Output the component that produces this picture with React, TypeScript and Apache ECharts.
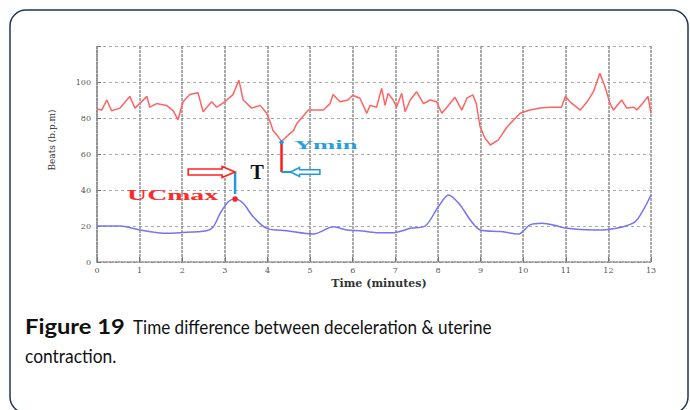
import React, { useEffect, useRef } from "react";
import * as echarts from "echarts";

// Heart rate (red) — time in minutes, beats per minute
const hrTime = [0, 0.11, 0.23, 0.34, 0.54, 0.77, 0.89, 1.0, 1.17, 1.24, 1.4, 1.63, 1.79, 1.9, 2.02, 2.18, 2.37, 2.49, 2.69, 2.81, 3.0, 3.19, 3.33, 3.43, 3.63, 3.83, 3.98, 4.06, 4.13, 4.22, 4.33, 4.49, 4.61, 4.69, 4.8, 4.96, 5.31, 5.47, 5.54, 5.7, 5.89, 6.0, 6.17, 6.33, 6.41, 6.56, 6.68, 6.76, 6.83, 6.95, 7.03, 7.15, 7.23, 7.35, 7.5, 7.66, 7.82, 7.97, 8.09, 8.21, 8.4, 8.56, 8.68, 8.82, 8.9, 8.99, 9.1, 9.23, 9.42, 9.62, 9.93, 10.16, 10.4, 10.63, 10.9, 10.99, 11.1, 11.34, 11.5, 11.65, 11.8, 11.92, 12.04, 12.12, 12.31, 12.43, 12.6, 12.67, 12.8, 12.93, 13.0];
const hrValues = [85, 84.4, 90, 84, 85.5, 92, 85.5, 88, 92, 86, 88, 87, 84, 79, 89, 93, 94, 83.5, 89, 86, 89, 93, 101, 90, 85.5, 87, 82.6, 78, 73, 70.6, 67, 70.6, 73, 77, 80, 84.4, 84.4, 88, 93, 89, 90, 92.6, 91, 82.6, 87, 86, 96.5, 87, 93.7, 90, 86, 93.7, 83.5, 90, 94.6, 88, 90, 89, 82.6, 86, 91.5, 84.4, 91, 92.8, 88, 75, 69, 65, 67.8, 75, 82.6, 84.4, 85.5, 86, 86, 92, 89, 84.4, 89, 94.6, 104.8, 97.4, 88, 84.4, 90, 85.5, 86, 84.4, 88, 92, 82.6];

// Uterine contraction (blue)
const ucTime = [0, 0.54, 1.0, 1.56, 1.95, 2.57, 2.73, 2.89, 3.08, 3.24, 3.43, 3.67, 3.98, 4.45, 5.08, 5.55, 5.86, 6.17, 6.56, 6.96, 7.35, 7.7, 8.01, 8.25, 8.52, 8.76, 8.99, 9.46, 9.89, 10.16, 10.44, 10.71, 11.03, 11.65, 12.0, 12.35, 12.63, 12.82, 13.0];
const ucValues = [20, 20, 17.8, 16, 16.3, 17.4, 19.6, 27, 33.5, 35, 32.6, 25, 18.7, 17.4, 15.6, 19.6, 17.8, 17.4, 16.3, 16.3, 18.7, 20, 30.7, 37.2, 31.7, 23.3, 17.8, 16.9, 15.6, 20.6, 21.5, 20.6, 18.7, 17.8, 18.1, 19.6, 22.4, 28.9, 37.2];

// Annotation anchors (time, value)
const ucMaxPoint = [3.24, 35];
const yMinPoint = [4.33, 66.5];
const markerLevel = 50;
const redArrowStart = 2.14;
const blueArrowEnd = 5.23;
const ucMaxLabelPos = [2.84, 37];
const tLabelPos = [3.76, 50];
const yMinLabelPos = [4.62, 65];

const xTicks = [0, 1, 2, 3, 4, 5, 6, 7, 8, 9, 10, 11, 12, 13];
const yTicks = [0, 20, 40, 60, 80, 100];

const captionBold = "Figure 19";
const captionLine1 = "Time difference between deceleration & uterine";
const captionLine2 = "contraction.";

function zip(a: number[], b: number[]) {
  return a.map((v, i) => [v, b[i]]);
}

function arrowPts(x0: number, x1: number, y: number, sh: number, hh: number, hl: number) {
  const dir = x1 > x0 ? 1 : -1;
  const xb = x1 - dir * hl;
  return [
    [x0, y - sh],
    [xb, y - sh],
    [xb, y - hh],
    [x1, y],
    [xb, y + hh],
    [xb, y + sh],
    [x0, y + sh],
  ];
}

export default function App() {
  const ref = useRef<HTMLDivElement>(null);
  useEffect(() => {
    if (!ref.current) return;
    const chart = echarts.init(ref.current, null, { renderer: "svg" });
    const serif = "'Liberation Serif', 'DejaVu Serif', serif";
    const wideSerif = "'DejaVu Serif', 'Liberation Serif', serif";
    const capFont = "Lato, 'Open Sans', sans-serif";
    chart.setOption({
      animation: false,
      backgroundColor: "#ffffff",
      grid: { left: 97, right: 39, top: 46, bottom: 148, containLabel: false },
      xAxis: {
        type: "value",
        min: 0,
        max: 13,
        interval: 1,
        axisLine: { show: true, lineStyle: { color: "#888", type: "dotted", width: 1.5 } },
        axisTick: { show: true, inside: true, length: 5, lineStyle: { color: "#777" } },
        axisLabel: {
          fontFamily: wideSerif,
          fontSize: 8,
          color: "#555",
          margin: 4,
          formatter: (v: number) => (xTicks.includes(v) ? String(v) : ""),
        },
        splitLine: { show: true, lineStyle: { color: "#8f8f8f", type: [3, 1], width: 1.5 } },
      },
      yAxis: {
        type: "value",
        min: 0,
        max: 120,
        interval: 20,
        axisLine: { show: true, lineStyle: { color: "#888", type: "dotted", width: 1.5 } },
        axisTick: { show: true, inside: true, length: 4, lineStyle: { color: "#777" } },
        axisLabel: {
          fontFamily: wideSerif,
          fontSize: 8,
          color: "#555",
          margin: 6,
          formatter: (v: number) => (yTicks.includes(v) ? String(v) : ""),
        },
        splitLine: { show: true, lineStyle: { color: "#aaa", type: [3, 3], width: 1.2 } },
      },
      series: [
        {
          type: "line",
          name: "FHR",
          data: zip(hrTime, hrValues),
          showSymbol: false,
          lineStyle: { color: "#ff6464", width: 1.5 },
          z: 3,
        },
        {
          type: "line",
          name: "UC",
          data: zip(ucTime, ucValues),
          showSymbol: false,
          smooth: 0.3,
          lineStyle: { color: "#7474f4", width: 1.5 },
          z: 3,
        },
        {
          type: "custom",
          coordinateSystem: "cartesian2d",
          clip: false,
          z: 5,
          data: [[ucMaxPoint[0], markerLevel]],
          renderItem: (_params: any, api: any) => {
            const pUc = api.coord(ucMaxPoint);
            const pMin = api.coord(yMinPoint);
            const pUcLvl = api.coord([ucMaxPoint[0], markerLevel]);
            const pMinLvl = api.coord([yMinPoint[0], markerLevel]);
            const pRedStart = api.coord([redArrowStart, markerLevel]);
            const pBlueEnd = api.coord([blueArrowEnd, markerLevel]);
            const pUcLab = api.coord(ucMaxLabelPos);
            const pT = api.coord(tLabelPos);
            const pYLab = api.coord(yMinLabelPos);
            return {
              type: "group",
              children: [
                {
                  type: "line",
                  shape: { x1: pUcLvl[0], y1: pUcLvl[1], x2: pUc[0], y2: pUc[1] - 5 },
                  style: { stroke: "#1e9be0", lineWidth: 2.5 },
                },
                {
                  type: "polygon",
                  shape: { points: arrowPts(pRedStart[0], pUcLvl[0], pUcLvl[1], 3, 5.5, 13) },
                  style: { fill: "#fff", stroke: "#ff2020", lineWidth: 1.6 },
                },
                {
                  type: "circle",
                  shape: { cx: pUc[0], cy: pUc[1], r: 2.8 },
                  style: { fill: "#ff2020" },
                },
                {
                  type: "line",
                  shape: { x1: pMin[0], y1: pMin[1], x2: pMinLvl[0], y2: pMinLvl[1] },
                  style: { stroke: "#ff1a1a", lineWidth: 2.5 },
                },
                {
                  type: "circle",
                  shape: { cx: pMin[0], cy: pMin[1], r: 2.2 },
                  style: { fill: "#1e9be0" },
                },
                {
                  type: "line",
                  shape: { x1: pMinLvl[0], y1: pMinLvl[1], x2: pMinLvl[0] + 10, y2: pMinLvl[1] },
                  style: { stroke: "#1e9be0", lineWidth: 2 },
                },
                {
                  type: "polygon",
                  shape: { points: arrowPts(pBlueEnd[0], pMinLvl[0] + 9, pMinLvl[1], 2.2, 4.5, 9) },
                  style: { fill: "#fff", stroke: "#1e9be0", lineWidth: 1.6 },
                },
                {
                  type: "text",
                  x: pUcLab[0],
                  y: pUcLab[1],
                  scaleX: 1.85,
                  style: {
                    text: "UCmax",
                    fill: "#ff2a2a",
                    font: "bold 15px " + serif,
                    align: "right",
                    verticalAlign: "middle",
                  },
                },
                {
                  type: "text",
                  x: pT[0],
                  y: pT[1],
                  style: {
                    text: "T",
                    fill: "#111",
                    font: "bold 20px " + serif,
                    align: "center",
                    verticalAlign: "middle",
                  },
                },
                {
                  type: "text",
                  x: pYLab[0],
                  y: pYLab[1],
                  scaleX: 2.05,
                  style: {
                    text: "Ymin",
                    fill: "#2a9fe0",
                    font: "bold 13px " + serif,
                    align: "left",
                    verticalAlign: "middle",
                  },
                },
              ],
            };
          },
        },
      ],
      graphic: [
        {
          type: "rect",
          shape: { x: 10, y: 10, width: 678, height: 403, r: 16 },
          style: { fill: "none", stroke: "#1f3556", lineWidth: 1.5 },
          z: 0,
        },
        {
          type: "text",
          x: 379,
          y: 283,
          style: {
            text: "Time (minutes)",
            font: "bold 11px " + wideSerif,
            fill: "#333",
            align: "center",
            verticalAlign: "middle",
          },
        },
        {
          type: "text",
          x: 52,
          y: 140,
          rotation: Math.PI / 2,
          style: {
            text: "Beats (b.p.m)",
            font: "9px " + wideSerif,
            fill: "#333",
            align: "center",
            verticalAlign: "middle",
          },
        },
        {
          type: "text",
          x: 25,
          y: 326,
          scaleX: 1.13,
          style: {
            text: captionBold,
            font: "bold 21px " + capFont,
            fill: "#111",
            verticalAlign: "middle",
          },
        },
        {
          type: "text",
          x: 133,
          y: 326,
          scaleX: 0.855,
          style: {
            text: captionLine1,
            font: "20px " + capFont,
            fill: "#111",
            verticalAlign: "middle",
          },
        },
        {
          type: "text",
          x: 25,
          y: 356,
          scaleX: 0.87,
          style: {
            text: captionLine2,
            font: "20px " + capFont,
            fill: "#111",
            verticalAlign: "middle",
          },
        },
      ],
    });
    return () => chart.dispose();
  }, []);
  return (
    <div style={{ position: "absolute", left: 0, top: 0, width: 690, height: 410, background: "#fff" }}>
      <div ref={ref} style={{ width: 690, height: 410 }} />
    </div>
  );
}
